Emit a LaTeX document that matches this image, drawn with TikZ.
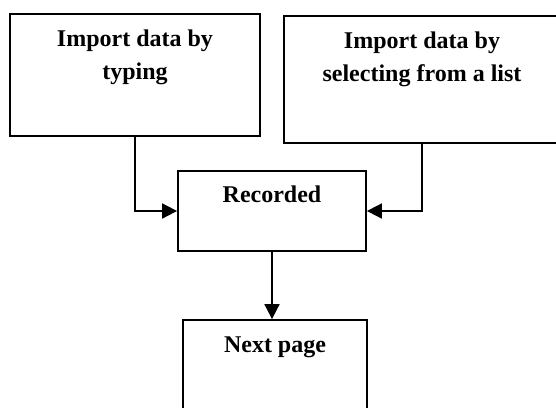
\documentclass[tikz,border=0pt]{standalone}
\usepackage{fontspec}
\setmainfont{Liberation Serif}
\usetikzlibrary{positioning, arrows.meta}

\tikzset{
    box/.style = {draw, line width = 1.8pt, inner sep = 0pt},
    title/.style = {inner sep = 0pt, align = center,
        font = \fontsize{24pt}{33pt}\selectfont\bfseries},
    flow/.style = {line width = 1.8pt, -{Triangle[length = 15pt, width = 15pt]}}
}

\begin{document}
\begin{tikzpicture}[x = 1pt, y = -1pt]
        \clip (0, 0) rectangle (556, 407);

        \node [box, minimum width = 250pt, minimum height = 122pt] (typing) at (135, 75) {};
        \node [box, minimum width = 276pt, minimum height = 127pt] (selecting) at (422, 79.5) {};
        \node [box, minimum width = 188pt, minimum height = 80pt] (recorded) at (272, 211) {};
        \node [box, minimum width = 184pt, minimum height = 110pt] (next) at (275, 375) {};

        \node [title, below = 17pt of typing.north] {Import data by\\typing};
        \node [title, below = 17pt of selecting.north] {Import data by\\selecting from a list};
        \node [title, below = 16pt of recorded.north] {Recorded};
        \node [title, below = 17pt of next.north] {Next page};

        \draw [flow] (typing) |- (recorded);
        \draw [flow] (selecting) |- (recorded);
        \draw [flow] (recorded.south) -- (recorded.south |- next.north);
    \end{tikzpicture}
\end{document}
